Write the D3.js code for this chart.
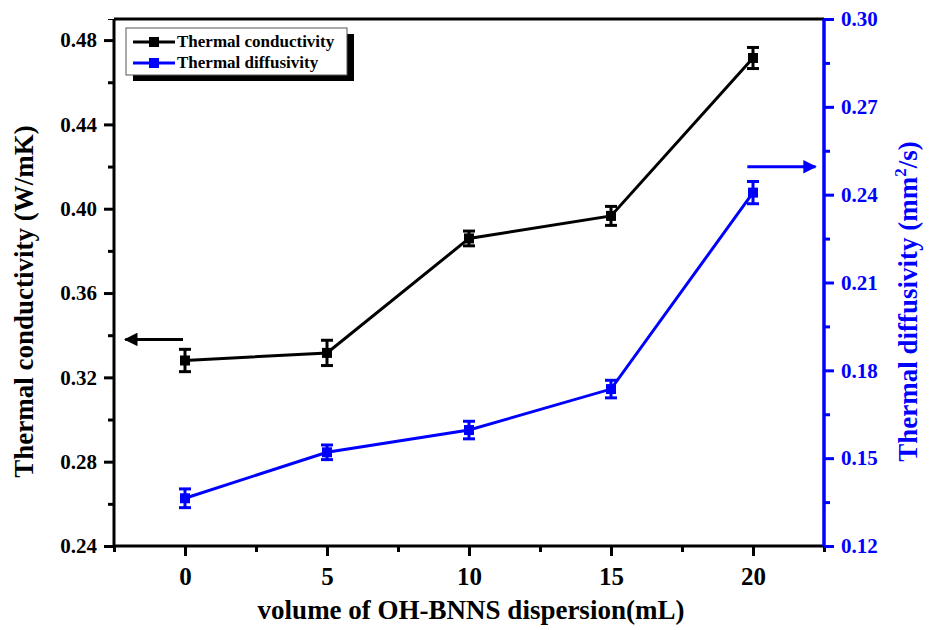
<!DOCTYPE html>
<html>
<head>
<meta charset="utf-8">
<script src="https://cdn.jsdelivr.net/npm/d3@7"></script>
<style>
	body { margin: 0; background: #fff; }
	svg text { font-family: "Liberation Serif", "Times New Roman", serif; font-weight: bold; }
</style>
</head>
<body>
<div id="món"></div>
<script>
// dades llegides de la figura
const volums = [0, 5, 10, 15, 20];
const conductivitat = [0.328, 0.3316, 0.3859, 0.3966, 0.4715];
const errConductivitat = [0.0053, 0.006, 0.0035, 0.0045, 0.005];
const difusivitat = [0.1363, 0.152, 0.1596, 0.1736, 0.2407];
const errDifusivitat = [0.0032, 0.0025, 0.003, 0.003, 0.0038];
const ticsX = [0, 5, 10, 15, 20];
const ticsEsq = [0.24, 0.28, 0.32, 0.36, 0.40, 0.44, 0.48];
const ticsDre = [0.12, 0.15, 0.18, 0.21, 0.24, 0.27, 0.30];
const sèries = ['Thermal conductivity', 'Thermal diffusivity'];

const Amplada = 936, Alçada = 630;
const marge = {dalt: 19, dreta: 112, baix: 84, esquerra: 114};
const amplada = Amplada - marge.esquerra - marge.dreta;
const alçada = Alçada - marge.dalt - marge.baix;
const blau = '#0000ff';

const svg = d3.select('#món').append('svg')
	.attr('width', Amplada)
	.attr('height', Alçada);
const g = svg.append('g').attr('transform', `translate(${marge.esquerra},${marge.dalt})`);

const escX = d3.scaleLinear().domain([-2.5, 22.5]).range([0, amplada]);
const escE = d3.scaleLinear().domain([0.24, 0.49]).range([alçada, 0]);
const escD = d3.scaleLinear().domain([0.12, 0.30]).range([alçada, 0]);

// eixos: tics menors primer, després els majors
function menors(tics) {
	const m = [];
	for (let i = 0; i < tics.length - 1; i++) m.push((tics[i] + tics[i+1]) / 2);
	return m;
}

const menorsX = [-2.5].concat(menors(ticsX), [22.5]);
g.append('g').attr('transform', `translate(0,${alçada})`)
	.call(d3.axisBottom(escX).tickValues(menorsX).tickSize(6).tickFormat(''))
	.call(a => a.selectAll('line').attr('stroke-width', 3));
const eixX = g.append('g').attr('transform', `translate(0,${alçada})`)
	.call(d3.axisBottom(escX).tickValues(ticsX).tickSize(10).tickPadding(11).tickFormat(d3.format('d')));

g.append('g')
	.call(d3.axisLeft(escE).tickValues(menors(ticsEsq)).tickSize(6).tickFormat(''))
	.call(a => a.selectAll('line').attr('stroke-width', 3));
const eixE = g.append('g')
	.call(d3.axisLeft(escE).tickValues(ticsEsq).tickSize(10).tickPadding(7).tickFormat(d3.format('.2f')));

g.append('g').attr('transform', `translate(${amplada},0)`)
	.call(d3.axisRight(escD).tickValues(menors(ticsDre)).tickSize(6).tickFormat(''))
	.call(a => a.selectAll('line').attr('stroke-width', 3).attr('stroke', blau));
const eixD = g.append('g').attr('transform', `translate(${amplada},0)`)
	.call(d3.axisRight(escD).tickValues(ticsDre).tickSize(10).tickPadding(7).tickFormat(d3.format('.2f')));

[eixX, eixE, eixD].forEach(e => {
	e.selectAll('.domain').remove();
	e.selectAll('line').attr('stroke-width', 3);
	e.selectAll('text').attr('font-size', 21).attr('fill', '#000');
});
eixX.selectAll('text').attr('font-size', 25);
eixD.selectAll('line').attr('stroke', blau);
eixD.selectAll('text').attr('fill', blau);

// marc
g.append('line').attr('x1', 0).attr('x2', amplada).attr('y1', 0).attr('y2', 0)
	.attr('stroke', '#000').attr('stroke-width', 3);
g.append('line').attr('x1', 0).attr('x2', amplada).attr('y1', alçada).attr('y2', alçada)
	.attr('stroke', '#000').attr('stroke-width', 3);
g.append('line').attr('x1', 0).attr('x2', 0).attr('y1', 0).attr('y2', alçada)
	.attr('stroke', '#000').attr('stroke-width', 3);
g.append('line').attr('x1', amplada).attr('x2', amplada).attr('y1', 0).attr('y2', alçada)
	.attr('stroke', blau).attr('stroke-width', 3.5);

// sèries
function dibuixa(valors, errors, esc, color) {
	const pts = volums.map((v, i) => ({x: v, y: valors[i], e: errors[i]}));
	g.append('path').datum(pts)
		.attr('fill', 'none').attr('stroke', color).attr('stroke-width', 3)
		.attr('d', d3.line().x(d => escX(d.x)).y(d => esc(d.y)));
	const barres = g.append('g').selectAll('g').data(pts).join('g')
		.attr('stroke', color).attr('stroke-width', 3);
	barres.append('line')
		.attr('x1', d => escX(d.x)).attr('x2', d => escX(d.x))
		.attr('y1', d => esc(d.y - d.e)).attr('y2', d => esc(d.y + d.e));
	barres.append('line')
		.attr('x1', d => escX(d.x) - 6).attr('x2', d => escX(d.x) + 6)
		.attr('y1', d => esc(d.y + d.e)).attr('y2', d => esc(d.y + d.e));
	barres.append('line')
		.attr('x1', d => escX(d.x) - 6).attr('x2', d => escX(d.x) + 6)
		.attr('y1', d => esc(d.y - d.e)).attr('y2', d => esc(d.y - d.e));
	g.append('g').selectAll('rect').data(pts).join('rect')
		.attr('x', d => escX(d.x) - 5).attr('y', d => esc(d.y) - 5)
		.attr('width', 10).attr('height', 10).attr('fill', color);
}
dibuixa(conductivitat, errConductivitat, escE, '#000');
dibuixa(difusivitat, errDifusivitat, escD, blau);

// fletxes
svg.append('defs').selectAll('marker').data([['fn', '#000'], ['fb', blau]]).join('marker')
	.attr('id', d => d[0]).attr('viewBox', '0 0 10 10').attr('refX', 9).attr('refY', 5)
	.attr('markerWidth', 8).attr('markerHeight', 4.5).attr('orient', 'auto')
	.attr('markerUnits', 'strokeWidth')
	.append('path').attr('d', 'M0,0L10,5L0,10Z').attr('fill', d => d[1]);
g.append('line')
	.attr('x1', escX(0) - 2).attr('x2', escX(-2.1))
	.attr('y1', escE(0.338)).attr('y2', escE(0.338))
	.attr('stroke', '#000').attr('stroke-width', 3).attr('marker-end', 'url(#fn)');
g.append('line')
	.attr('x1', escX(19.8)).attr('x2', escX(22.2))
	.attr('y1', escD(0.2495)).attr('y2', escD(0.2495))
	.attr('stroke', blau).attr('stroke-width', 3).attr('marker-end', 'url(#fb)');

// llegenda
const lleg = g.append('g').attr('transform', 'translate(12,9)');
lleg.append('rect').attr('x', 7).attr('y', 6).attr('width', 221).attr('height', 47).attr('fill', '#000');
lleg.append('rect').attr('x', 0).attr('y', 0).attr('width', 221).attr('height', 47)
	.attr('fill', '#fff').attr('stroke', '#555').attr('stroke-width', 1);
sèries.forEach((s, i) => {
	const c = i === 0 ? '#000' : blau;
	const y = 14 + i * 21;
	lleg.append('line').attr('x1', 7).attr('x2', 49).attr('y1', y).attr('y2', y)
		.attr('stroke', c).attr('stroke-width', 3);
	lleg.append('rect').attr('x', 23).attr('y', y - 5).attr('width', 10).attr('height', 10).attr('fill', c);
	lleg.append('text').attr('x', 51).attr('y', y + 5).attr('font-size', 17).attr('fill', '#000').text(s);
});

// títols
svg.append('text').attr('x', marge.esquerra + amplada / 2 + 2).attr('y', 619)
	.attr('text-anchor', 'middle').attr('font-size', 27).text('volume of OH-BNNS dispersion(mL)');
svg.append('text').attr('transform', `translate(33,${marge.dalt + alçada / 2 + 19}) rotate(-90)`)
	.attr('text-anchor', 'middle').attr('font-size', 27).text('Thermal conductivity (W/mK)');
const tD = svg.append('text').attr('transform', `translate(917,${marge.dalt + alçada / 2 + 19}) rotate(-90)`)
	.attr('text-anchor', 'middle').attr('font-size', 27).attr('fill', blau);
tD.append('tspan').text('Thermal diffusivity (mm');
tD.append('tspan').attr('font-size', 17).attr('dy', -11).text('2');
tD.append('tspan').attr('dy', 11).text('/s)');
</script>
</body>
</html>
